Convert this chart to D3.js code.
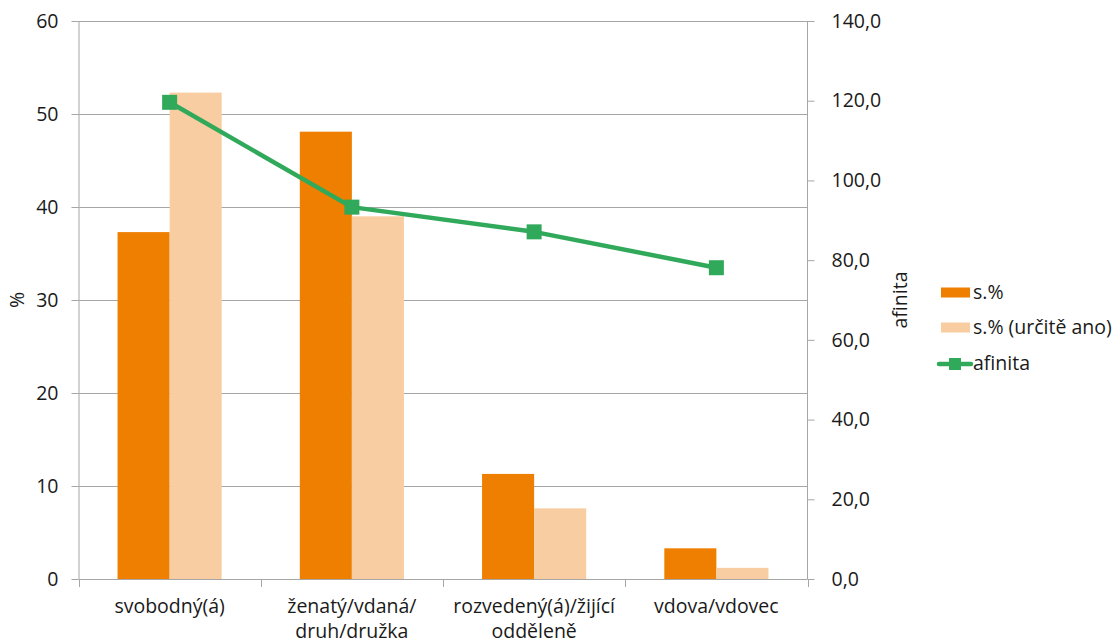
<!DOCTYPE html>
<html>
<head>
<meta charset="utf-8">
<script src="https://cdn.jsdelivr.net/npm/d3@7"></script>
<style>
  body { margin: 0; background: #fff; }
  svg text { font-family: "Open Sans", "Noto Sans", sans-serif; fill: #1a1a1a; }
</style>
</head>
<body>
<svg id="chart" width="1115" height="643"></svg>
<script>
// Marital status categories (label lines)
const categories = [
  ["svobodný(á)"],
  ["ženatý/vdaná/", "druh/družka"],
  ["rozvedený(á)/žijící", "odděleně"],
  ["vdova/vdovec"]
];
const seriesNames = ["s.%", "s.% (určitě ano)", "afinita"];
const share = [37.3, 48.1, 11.3, 3.3];          // s.%
const shareSure = [52.3, 39.0, 7.6, 1.2];       // s.% (určitě ano)
const affinity = [119.6, 93.3, 87.1, 78.1];     // afinita
const leftTicks = [0, 10, 20, 30, 40, 50, 60];
const rightTicks = [0, 20, 40, 60, 80, 100, 120, 140];

const colors = { dark: "#EF7F00", light: "#F9CDA2", line: "#31A95B", grid: "#A6A6A6" };
const fs = 19.5;

const svg = d3.select("#chart");
const m = { left: 78.5, right: 807.5, top: 21, bottom: 579 };

const x = d3.scaleBand().domain(d3.range(categories.length)).range([m.left, m.right]).paddingInner(0).paddingOuter(0);
const yL = d3.scaleLinear().domain([0, 60]).range([m.bottom, m.top]);
const yR = d3.scaleLinear().domain([0, 140]).range([m.bottom, m.top]);

// gridlines
svg.append("g").selectAll("line").data(leftTicks.filter(d => d > 0)).join("line")
  .attr("x1", m.left).attr("x2", m.right)
  .attr("y1", d => Math.round(yL(d)) + 0.5).attr("y2", d => Math.round(yL(d)) + 0.5)
  .attr("stroke", colors.grid).attr("stroke-width", 1);

// bars: two per category, gap equal to 1.5 bar widths
const bw = x.bandwidth() / 3.5;
const bars = svg.append("g");
[share, shareSure].forEach((vals, si) => {
  bars.selectAll(null).data(vals).join("rect")
    .attr("x", (d, i) => x(i) + bw * 0.75 + si * bw)
    .attr("y", d => yL(d))
    .attr("width", bw)
    .attr("height", d => yL(0) - yL(d))
    .attr("fill", si === 0 ? colors.dark : colors.light);
});

// left axis
const leftAxis = svg.append("g").attr("transform", `translate(${m.left},0)`)
  .call(d3.axisLeft(yL).tickValues(leftTicks).tickSize(7).tickPadding(13).tickFormat(d3.format("d")));
leftAxis.select(".domain").attr("stroke", colors.grid).attr("d", `M0.5,${m.top}V${m.bottom}`);
leftAxis.selectAll(".tick line").attr("stroke", colors.grid);
leftAxis.selectAll("text").attr("font-size", fs).attr("fill", "#1a1a1a");

// right axis
const rightAxis = svg.append("g").attr("transform", `translate(${m.right},0)`)
  .call(d3.axisRight(yR).tickValues(rightTicks).tickSize(7).tickPadding(17)
    .tickFormat(d => d3.format(".1f")(d).replace(".", ",")));
rightAxis.select(".domain").attr("stroke", colors.grid).attr("d", `M0,${m.top}V${m.bottom}`);
rightAxis.selectAll(".tick line").attr("stroke", colors.grid);
rightAxis.selectAll("text").attr("font-size", fs).attr("fill", "#1a1a1a");

// bottom axis baseline and category boundary ticks
const bottom = svg.append("g");
bottom.append("line").attr("x1", m.left).attr("x2", m.right)
  .attr("y1", m.bottom + 0.5).attr("y2", m.bottom + 0.5).attr("stroke", colors.grid);
bottom.selectAll(".bt").data(d3.range(categories.length + 1)).join("line")
  .attr("x1", i => Math.round(m.left + i * x.bandwidth()) + 0.5)
  .attr("x2", i => Math.round(m.left + i * x.bandwidth()) + 0.5)
  .attr("y1", m.bottom).attr("y2", m.bottom + 8).attr("stroke", colors.grid);
const catLabels = bottom.selectAll(".cl").data(categories).join("text")
  .attr("text-anchor", "middle").attr("font-size", fs)
  .attr("transform", (d, i) => `translate(${x(i) + x.bandwidth() / 2},613)`);
catLabels.selectAll("tspan").data(d => d).join("tspan")
  .attr("x", 0).attr("dy", (d, j) => j === 0 ? 0 : 25).text(d => d);

// affinity line
const line = d3.line().x((d, i) => x(i) + x.bandwidth() / 2).y(d => yR(d));
svg.append("path").datum(affinity).attr("d", line)
  .attr("fill", "none").attr("stroke", colors.line).attr("stroke-width", 4.5).attr("stroke-linejoin", "round");
svg.append("g").selectAll("rect").data(affinity).join("rect")
  .attr("x", (d, i) => x(i) + x.bandwidth() / 2 - 7.5)
  .attr("y", d => yR(d) - 7.5)
  .attr("width", 15).attr("height", 15).attr("fill", colors.line);

// axis titles
svg.append("text").attr("transform", "translate(24,300) rotate(-90)")
  .attr("text-anchor", "middle").attr("font-size", fs).text("%");
svg.append("text").attr("transform", "translate(907,300) rotate(-90)")
  .attr("text-anchor", "middle").attr("font-size", fs).text("afinita");

// legend
const legend = svg.append("g");
legend.append("rect").attr("x", 941).attr("y", 287.5).attr("width", 29).attr("height", 10).attr("fill", colors.dark);
legend.append("text").attr("x", 973).attr("y", 299).attr("font-size", fs).text(seriesNames[0]);
legend.append("rect").attr("x", 941).attr("y", 322.5).attr("width", 29).attr("height", 10).attr("fill", colors.light);
legend.append("text").attr("x", 973).attr("y", 334).attr("font-size", fs).text(seriesNames[1]);
legend.append("line").attr("x1", 939).attr("x2", 971).attr("y1", 364).attr("y2", 364)
  .attr("stroke", colors.line).attr("stroke-width", 4.5).attr("stroke-linecap", "round");
legend.append("rect").attr("x", 949).attr("y", 358).attr("width", 12).attr("height", 12).attr("fill", colors.line);
legend.append("text").attr("x", 973).attr("y", 370).attr("font-size", fs).text(seriesNames[2]);
</script>
</body>
</html>
